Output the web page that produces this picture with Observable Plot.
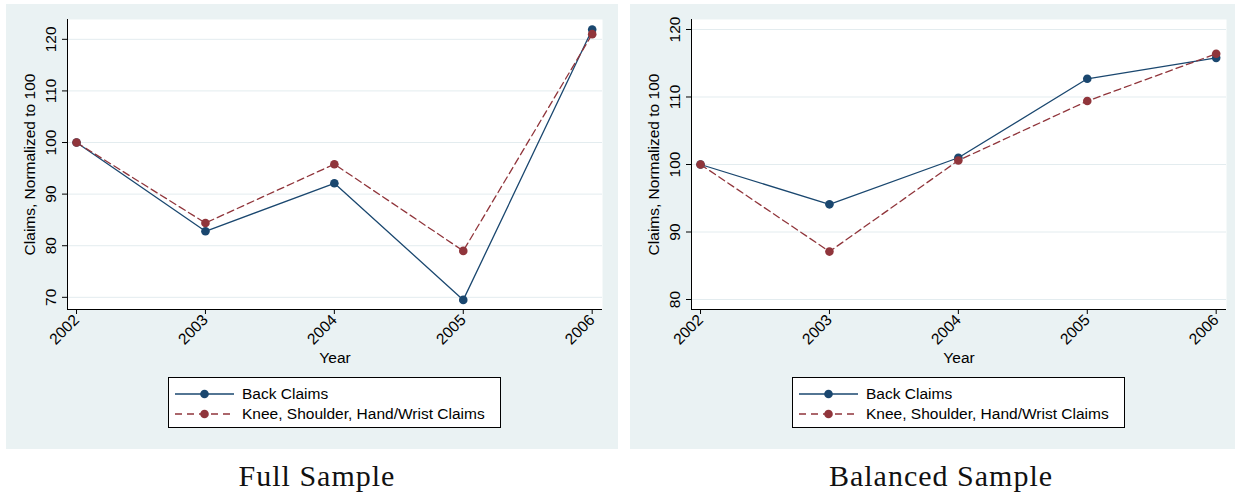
<!DOCTYPE html>
<html>
<head>
<meta charset="utf-8">
<script src="https://cdn.jsdelivr.net/npm/d3@7"></script>
<script src="https://cdn.jsdelivr.net/npm/@observablehq/plot@0.6"></script>
<style>
  body { margin: 0; background: #ffffff; }
  #root { position: relative; width: 1235px; height: 493px; overflow: hidden; background: #fff; }
  .panel { position: absolute; background: #eaf2f3; }
  .panel svg { position: absolute; left: 0; top: 0; }
  .legend { position: absolute; background: #fff; border: 1px solid #000; box-sizing: border-box;
            font-family: 'Liberation Sans', Arial, sans-serif; font-size: 15.5px; color: #000; }
  .legend .row { position: absolute; left: 0; height: 20px; white-space: nowrap; }
  .legend .row svg { position: absolute; left: 0; top: 0; }
  .legend .row span { position: absolute; left: 73px; top: 1px; line-height: 18px; }
  .caption { position: absolute; font-family: 'Liberation Serif', 'DejaVu Serif', serif; font-size: 30px;
             letter-spacing: 1px; color: #111; white-space: nowrap; transform: translateX(-50%); }
</style>
</head>
<body>
<div id="root"></div>
<script>
// ---- data ----
const years = [2002, 2003, 2004, 2005, 2006];
const seriesNames = ["Back Claims", "Knee, Shoulder, Hand/Wrist Claims"];
const seriesColors = ["#1a476f", "#90353b"];
const fullBack = [100, 82.8, 92.1, 69.5, 121.9];
const fullKnee = [100, 84.4, 95.8, 79.0, 121.0];
const balancedBack = [100, 94.1, 101.0, 112.7, 115.8];
const balancedKnee = [100, 87.1, 100.6, 109.4, 116.4];
const fullYTicks = [70, 80, 90, 100, 110, 120];
const balancedYTicks = [80, 90, 100, 110, 120];
const yLabel = "Claims, Normalized to 100";
const xLabel = "Year";
const captions = ["Full Sample", "Balanced Sample"];

const xDomain = [2001.93, 2006.08];
const root = document.getElementById("root");
const FS = 15.5;

function toRows(vals) { return years.map((y, i) => ({year: y, value: vals[i]})); }

function makePlot({back, knee, yDomain, yTicks, width, marginRight}) {
  const backRows = toRows(back), kneeRows = toRows(knee);
  return Plot.plot({
    width, height: 366,
    marginLeft: 61, marginRight, marginTop: 15, marginBottom: 61,
    x: {type: "linear", domain: xDomain},
    y: {type: "linear", domain: yDomain},
    style: {background: "transparent", fontFamily: "'Liberation Sans', Arial, sans-serif", fontSize: FS + "px", color: "#000", overflow: "visible"},
    marks: [
      Plot.frame({fill: "white", stroke: "none"}),
      Plot.gridY({ticks: yTicks, stroke: "#e3ecef", strokeOpacity: 1}),
      Plot.ruleX([xDomain[0]], {stroke: "#000", strokeWidth: 1}),
      Plot.ruleY([yDomain[0]], {stroke: "#000", strokeWidth: 1}),
      Plot.axisY({ticks: yTicks, tickSize: 5, tickRotate: -90, tickPadding: 7, label: null, fontSize: FS}),
      Plot.axisX({ticks: years, tickFormat: d => String(d), tickSize: 5, tickRotate: -45, tickPadding: 3, label: null, fontSize: FS}),
      Plot.text([yLabel], {frameAnchor: "left", textAnchor: "middle", lineAnchor: "middle", rotate: -90, dx: -37, fontSize: FS}),
      Plot.text([xLabel], {frameAnchor: "bottom", lineAnchor: "middle", dy: 49, fontSize: FS}),
      Plot.line(backRows, {x: "year", y: "value", stroke: seriesColors[0], strokeWidth: 1.3}),
      Plot.line(kneeRows, {x: "year", y: "value", stroke: seriesColors[1], strokeWidth: 1.3, strokeDasharray: "7,4"}),
      Plot.dot(backRows, {x: "year", y: "value", r: 4.3, fill: seriesColors[0], stroke: "none"}),
      Plot.dot(kneeRows, {x: "year", y: "value", r: 4.3, fill: seriesColors[1], stroke: "none"})
    ]
  });
}

function makeLegend(left, top) {
  const lg = document.createElement("div");
  lg.className = "legend";
  Object.assign(lg.style, {left: left + "px", top: top + "px", width: "333px", height: "51px"});
  seriesNames.forEach((name, i) => {
    const row = document.createElement("div");
    row.className = "row";
    row.style.top = (6 + i * 20) + "px";
    row.style.width = "330px";
    const dash = i === 0 ? "" : `stroke-dasharray="7,5"`;
    row.innerHTML = `<svg width="70" height="20"><line x1="6" x2="65" y1="10" y2="10" stroke="${seriesColors[i]}" stroke-width="1.3" ${dash}/><circle cx="35.5" cy="10" r="4.3" fill="${seriesColors[i]}"/></svg><span>${name}</span>`;
    lg.appendChild(row);
  });
  root.appendChild(lg);
}

const panels = [
  {left: 6, width: 612, marginRight: 16, back: fullBack, knee: fullKnee, yDomain: [67.64, 123.84], yTicks: fullYTicks, legendLeft: 168, caption: captions[0], capX: 317},
  {left: 630, width: 605, marginRight: 9, back: balancedBack, knee: balancedKnee, yDomain: [78.52, 121.48], yTicks: balancedYTicks, legendLeft: 792, caption: captions[1], capX: 941}
];

panels.forEach(p => {
  const div = document.createElement("div");
  div.className = "panel";
  Object.assign(div.style, {left: p.left + "px", top: "4px", width: p.width + "px", height: "445px"});
  div.appendChild(makePlot(p));
  root.appendChild(div);
  makeLegend(p.legendLeft, 377);
  const cap = document.createElement("div");
  cap.className = "caption";
  cap.textContent = p.caption;
  Object.assign(cap.style, {left: p.capX + "px", top: "459px"});
  root.appendChild(cap);
});
</script>
</body>
</html>
